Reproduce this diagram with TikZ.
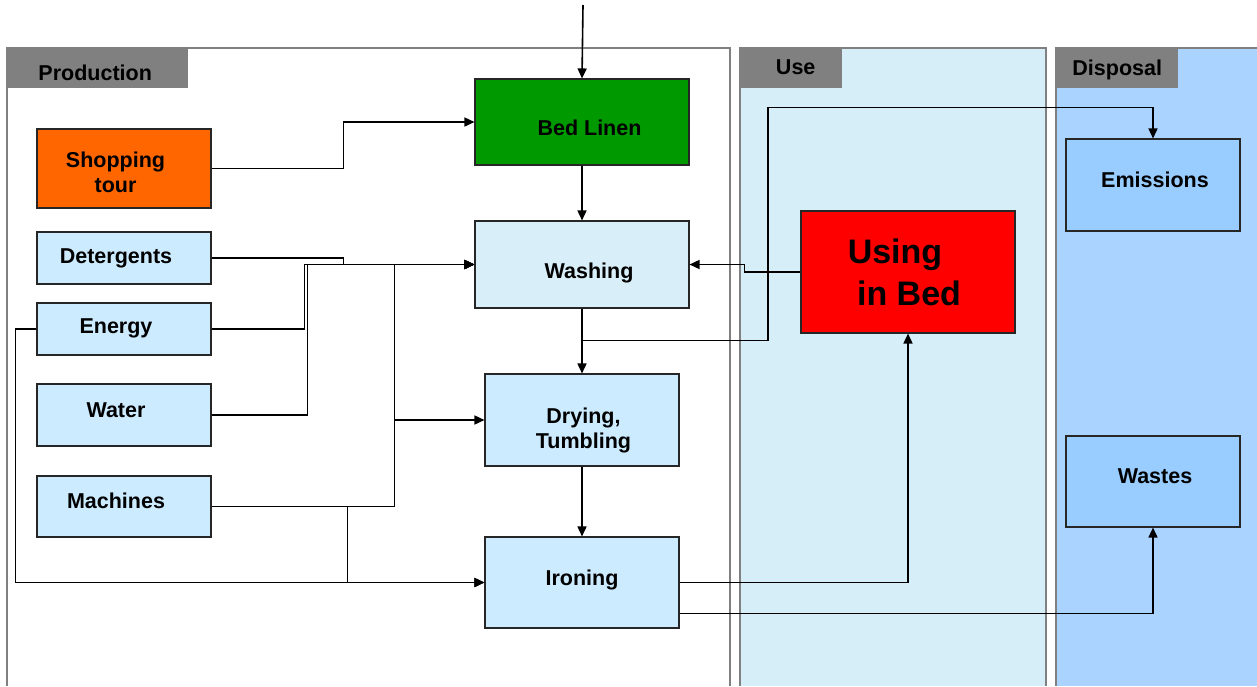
\documentclass[tikz,border=0pt]{standalone}
\usepackage{fontspec}
\setmainfont{Liberation Sans}
\usetikzlibrary{arrows.meta}
\definecolor{laneuse}{RGB}{214,238,248}
\definecolor{lanedisp}{RGB}{170,212,255}
\definecolor{boxblue}{RGB}{204,235,255}
\definecolor{boxwash}{RGB}{216,238,248}
\definecolor{boxdisp}{RGB}{153,204,255}
\definecolor{linengreen}{RGB}{0,153,0}
\definecolor{shoporange}{RGB}{255,102,0}
\definecolor{headgray}{RGB}{128,128,128}

\begin{document}
\begin{tikzpicture}[x=1pt, y=-1pt,
    lane/.style={draw=headgray, line width=1.5pt},
    head/.style={fill=headgray, anchor=north west, minimum height=40, inner sep=0},
    box/.style={draw=black!85, line width=1.1pt, fill=boxblue, inner sep=0, minimum width=174},
    every label/.style={font=\fontsize{21.5}{25}\selectfont\bfseries, align=center,
      inner sep=0, text height=15.4pt, text depth=0pt},
    twolines/.style={text height=, text depth=},
    arr/.style={-{Triangle[length=10pt,width=9pt]}, line width=1.6pt}]
  \useasboundingbox (0,0) rectangle (1257,686);

  % lanes
  \fill[white] (7,48) rectangle (730,686);
  \draw[lane] (7,686) |- (730,48) -- (730,686);
  \fill[laneuse] (740,48) rectangle (1046,686);
  \draw[lane] (740,686) |- (1046,48) -- (1046,686);
  \fill[lanedisp] (1056,48) rectangle (1257,686);
  \draw[lane] (1056,686) |- (1257,48);
  \node[head, minimum width=181, label={[xshift=-2.5pt,yshift=-4.5pt]center:Production}] (hprod) at (7,48) {};
  \node[head, minimum width=102, label={[xshift=4.5pt,yshift=1.5pt]center:Use}] (huse) at (740,48) {};
  \node[head, minimum width=122, label={center:Disposal}] (hdisp) at (1056,48) {};

  % production
  \node[box, fill=linengreen, minimum width=214, minimum height=86,
    label={[xshift=7.5pt,yshift=-6pt]center:Bed Linen}] (bed) at (582,122) {};
  \node[box, fill=shoporange, minimum height=79,
    label={[twolines,xshift=-8.5pt,yshift=-3.5pt]center:Shopping\\tour}] (shop) at (124,168.5) {};
  \node[box, minimum height=52, label={[xshift=-8pt,yshift=2.5pt]center:Detergents}] (det) at (124,258) {};
  \node[box, minimum height=52, label={[xshift=-8pt,yshift=3pt]center:Energy}] (energy) at (124,329) {};
  \node[box, minimum height=62, label={[xshift=-8pt,yshift=5pt]center:Water}] (water) at (124,415) {};
  \node[box, minimum height=61, label={[xshift=-8pt,yshift=5.5pt]center:Machines}] (mach) at (124,506.5) {};
  \node[box, fill=boxwash, minimum width=214, minimum height=87,
    label={[xshift=7pt,yshift=-6.5pt]center:Washing}] (wash) at (582,264.5) {};
  \node[box, minimum width=194, minimum height=92,
    label={[twolines,xshift=1.5pt,yshift=-10pt]center:Drying,\\Tumbling}] (dry) at (582,420) {};
  \node[box, minimum width=194, minimum height=91,
    label={[yshift=4.5pt]center:Ironing}] (iron) at (582,582.5) {};

  % use and disposal
  \node[box, fill=red, minimum width=214, minimum height=122,
    label={[twolines,xshift=1pt,font=\fontsize{34}{42}\selectfont\bfseries]center:Using\hspace*{28pt}\\in Bed}] (beduse) at (908,272) {};
  \node[box, fill=boxdisp, minimum height=92, label={[xshift=2pt,yshift=5pt]center:Emissions}] (emis) at (1153,185) {};
  \node[box, fill=boxdisp, minimum height=91, label={[xshift=2pt,yshift=5.5pt]center:Wastes}] (waste) at (1153,481.5) {};

  \coordinate (src) at (583,5);

  % connectors
  \draw[arr] (src) -- (bed.north);
  \draw[arr] (shop.east) -- ++(132,0) |- (bed.west);
  \draw[arr] (bed.south) -- (wash.north);
  \draw[arr] (det.east) -- ++(132,0) |- (wash.west);
  \draw[arr] (energy.east) -| ([xshift=-170pt]wash.west) -- (wash.west);
  \draw[arr] (water.east) -| ([xshift=-167pt]wash.west) -- (wash.west);
  \draw[arr] (mach.east) -| ([xshift=-80pt]wash.west) -- (wash.west);
  \draw[arr] (mach.east) -| ([xshift=-90pt]dry.west) -- (dry.west);
  \draw[arr] (mach.east) -| ([xshift=-137pt]iron.west) -- (iron.west);
  \draw[arr] (energy.west) -- ++(-21,0) |- (iron.west);
  \draw[arr] (wash.south) -- (dry.north);
  \draw[arr] (dry.south) -- (iron.north);
  \draw[arr] ([yshift=-32pt]wash.south) -- ++(186,0) |- ([yshift=31pt]emis.north) -- (emis.north);
  \draw[arr] (beduse.west) -- ++(-56,0) |- (wash.east);
  \draw[arr] (iron.east) -| (beduse.south);
  \draw[arr] ([yshift=-31pt]iron.east) -| (waste.south);
\end{tikzpicture}
\end{document}
